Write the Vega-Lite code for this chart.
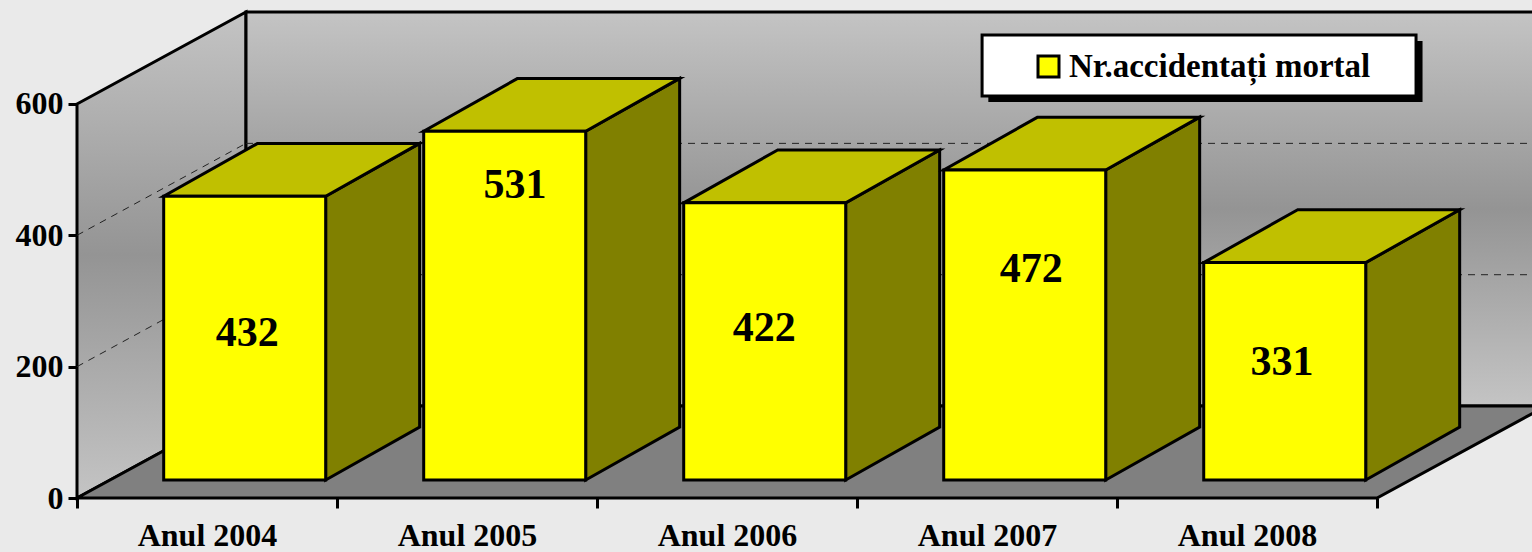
{
"$schema":"https://vega.github.io/schema/vega-lite/v6.json",
"width":1455,"height":498,
"autosize":{"type":"none"},
"padding":{"left":77,"top":0,"right":0,"bottom":54},
"background":"#eaeaea",
"config":{"view":{"stroke":null},"font":"Liberation Serif"},
"datasets":{
"bars":[
{"year":"Anul 2004","idx":0,"value":432,"series":"Nr.accidentați mortal"},
{"year":"Anul 2005","idx":1,"value":531,"series":"Nr.accidentați mortal"},
{"year":"Anul 2006","idx":2,"value":422,"series":"Nr.accidentați mortal"},
{"year":"Anul 2007","idx":3,"value":472,"series":"Nr.accidentați mortal"},
{"year":"Anul 2008","idx":4,"value":331,"series":"Nr.accidentați mortal"}],
"depth":[{"d":0},{"d":1}],
"grid":[{"level":200,"d":0},{"level":200,"d":1},{"level":400,"d":0},{"level":400,"d":1}],
"frame":[{"part":"frame"}]
},
"encoding":{
"x":{"field":"px","type":"quantitative","title":null,
 "scale":{"domain":[0,5.596],"nice":false,"zero":false},
 "axis":{"values":[0,1,2,3,4,5],"grid":false,"domain":false,"tickColor":"#000","tickWidth":3,"tickSize":10,
  "labelExpr":"datum.value<5?'Anul '+(2004+datum.value):''","labelOffset":130,"labelFont":"Liberation Serif","labelFontWeight":"bold","labelFontSize":32,"labelColor":"#000","labelPadding":12,"labelBound":false,"labelFlush":false,"labelOverlap":false,"title":null}},
"y":{"field":"py","type":"quantitative","title":null,
 "scale":{"domain":[0,758.3],"nice":false,"zero":false},
 "axis":{"values":[0,200,400,600],"grid":false,"domain":false,"tickColor":"#000","tickWidth":3,"tickSize":9,
  "labelFont":"Liberation Serif","labelFontWeight":"bold","labelFontSize":32,"labelColor":"#000","labelPadding":5,"labelBound":false,"labelFlush":false,"labelOverlap":false,"title":null}}
},
"layer":[
{"data":{"name":"depth"},
 "transform":[{"calculate":"datum.d*0.65","as":"px"},{"calculate":"600+datum.d*140","as":"py"},{"calculate":"datum.d*140","as":"py2"}],
 "mark":{"type":"area","stroke":"#000","strokeWidth":3,"fill":{"gradient":"linear","x1":0,"y1":0,"x2":0,"y2":1,"stops":[{"offset":0,"color":"#c4c4c4"},{"offset":0.5,"color":"#949494"},{"offset":1,"color":"#c4c4c4"}]}},
 "encoding":{"y2":{"field":"py2"}}},
{"data":{"name":"frame"},
 "transform":[{"calculate":"0.65","as":"px"},{"calculate":"5.65","as":"px2"},{"calculate":"140","as":"py2"},{"calculate":"740","as":"py"}],
 "mark":{"type":"rect","stroke":"#000","strokeWidth":3,"fill":{"gradient":"linear","x1":0,"y1":0,"x2":0,"y2":1,"stops":[{"offset":0,"color":"#c4c4c4"},{"offset":0.5,"color":"#949494"},{"offset":1,"color":"#c4c4c4"}]}},
 "encoding":{"x2":{"field":"px2"},"y2":{"field":"py2"}}},
{"data":{"name":"depth"},
 "transform":[{"calculate":"datum.d*0.65","as":"px"},{"calculate":"5+datum.d*0.65","as":"px2"},{"calculate":"datum.d*140","as":"py"}],
 "mark":{"type":"area","orient":"horizontal","fill":"#808080","stroke":"#000","strokeWidth":3},
 "encoding":{"x2":{"field":"px2"}}},
{"data":{"name":"grid"},
 "transform":[{"calculate":"datum.d*0.65","as":"px"},{"calculate":"datum.level+datum.d*140","as":"py"}],
 "mark":{"type":"line","stroke":"#222","strokeWidth":1,"strokeDash":[7,6]},
 "encoding":{"detail":{"field":"level"}}},
{"data":{"name":"grid"},
 "transform":[{"calculate":"0.65+datum.d*5","as":"px"},{"calculate":"datum.level+140","as":"py"}],
 "mark":{"type":"line","stroke":"#222","strokeWidth":1,"strokeDash":[7,6]},
 "encoding":{"detail":{"field":"level"}}},
{"data":{"name":"frame"},
 "transform":[{"calculate":"3.505","as":"px"},{"calculate":"5.175","as":"px2"},{"calculate":"696","as":"py"},{"calculate":"603","as":"py2"}],
 "mark":{"type":"rect","fill":"#000"},
 "encoding":{"x2":{"field":"px2"},"y2":{"field":"py2"}}},
{"data":{"name":"frame"},
 "transform":[{"calculate":"3.481","as":"px"},{"calculate":"5.150","as":"px2"},{"calculate":"705","as":"py"},{"calculate":"612","as":"py2"}],
 "mark":{"type":"rect","fill":"#fff","stroke":"#000","strokeWidth":3},
 "encoding":{"x2":{"field":"px2"},"y2":{"field":"py2"}}},
{"data":{"name":"bars"},
 "transform":[{"calculate":"[0,1]","as":"d"},{"flatten":["d"]},
  {"calculate":"datum.idx+0.829+(0.196+datum.d*0.556)*0.65","as":"px"},{"calculate":"datum.value+(0.196+datum.d*0.575)*140","as":"py"},{"calculate":"(0.196+datum.d*0.575)*140","as":"py2"}],
 "mark":{"type":"area","fill":"#808000","stroke":"#000","strokeWidth":3},
 "encoding":{"y2":{"field":"py2"},"detail":{"field":"idx"}}},
{"data":{"name":"bars"},
 "transform":[{"calculate":"[0,1]","as":"d"},{"flatten":["d"]},
  {"calculate":"datum.idx+0.206+(0.196+datum.d*0.556)*0.65","as":"px"},{"calculate":"datum.idx+0.829+(0.196+datum.d*0.556)*0.65","as":"px2"},{"calculate":"datum.value+(0.196+datum.d*0.575)*140","as":"py"}],
 "mark":{"type":"area","orient":"horizontal","fill":"#c0c000","stroke":"#000","strokeWidth":3},
 "encoding":{"x2":{"field":"px2"},"detail":{"field":"idx"}}},
{"data":{"name":"bars"},
 "transform":[{"calculate":"datum.idx+0.206+0.196*0.65","as":"px"},{"calculate":"datum.idx+0.829+0.196*0.65","as":"px2"},{"calculate":"datum.value+0.196*140","as":"py"},{"calculate":"0.196*140","as":"py2"}],
 "mark":{"type":"rect","stroke":"#000","strokeWidth":3},
 "encoding":{"x2":{"field":"px2"},"y2":{"field":"py2"},
  "color":{"field":"series","type":"nominal","scale":{"range":["#ffff00"]},
   "legend":{"orient":"none","legendX":955,"legendY":50,"title":null,"padding":0,"symbolType":"square","symbolSize":441,"symbolStrokeColor":"#000","symbolStrokeWidth":3,"symbolOpacity":1,"labelFont":"Liberation Serif","labelFontWeight":"bold","labelFontSize":33,"labelColor":"#000","labelOffset":4,"labelLimit":600}}}},
{"data":{"name":"bars"},
 "transform":[{"calculate":"datum.idx+0.5155+[0.0115,0.042,0,0.027,-0.008][datum.idx]+0.196*0.65","as":"px"},{"calculate":"[224,449,231,321,180][datum.idx]+0.196*140","as":"py"}],
 "mark":{"type":"text","font":"Liberation Serif","fontWeight":"bold","fontSize":42,"color":"#000","baseline":"middle","align":"center"},
 "encoding":{"text":{"field":"value","type":"quantitative"}}}
]
}
